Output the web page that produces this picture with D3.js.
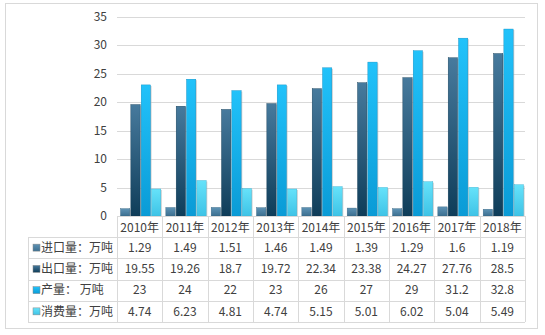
<!DOCTYPE html>
<html>
<head>
<meta charset="utf-8">
<script src="https://cdn.jsdelivr.net/npm/d3@7"></script>
<style>
  body { margin: 0; background: #fff; }
  svg text { font-family: "Noto Sans CJK SC", "Liberation Sans", sans-serif; fill: #404040; }
</style>
</head>
<body>
<svg id="chart" width="545" height="335"></svg>
<script>
// chart values
const years = ['2010年', '2011年', '2012年', '2013年', '2014年', '2015年', '2016年', '2017年', '2018年'];
const importVals = [1.29, 1.49, 1.51, 1.46, 1.49, 1.39, 1.29, 1.6, 1.19];
const exportVals = [19.55, 19.26, 18.7, 19.72, 22.34, 23.38, 24.27, 27.76, 28.5];
const outputVals = [23, 24, 22, 23, 26, 27, 29, 31.2, 32.8];
const consumeVals = [4.74, 6.23, 4.81, 4.74, 5.15, 5.01, 6.02, 5.04, 5.49];
const seriesNames = ['进口量：万吨', '出口量：万吨', '产量： 万吨', '消费量：万吨'];
const yTicks = [0, 5, 10, 15, 20, 25, 30, 35];

const series = [
  {name: seriesNames[0], values: importVals, c: ['#5e93b5', '#3c6f90']},
  {name: seriesNames[1], values: exportVals, c: ['#477a9d', '#0f3d59']},
  {name: seriesNames[2], values: outputVals, c: ['#22c2fa', '#0a9bd6']},
  {name: seriesNames[3], values: consumeVals, c: ['#66e2fa', '#3ec3e6']}
];

const svg = d3.select('#chart');
const plotLeft = 117, plotRight = 525, plotTop = 16.5, base = 216;
const rowTop = 237, rowBottom = 322, labelLeft = 28;

svg.append('rect')
  .attr('x', 5.5).attr('y', 3.5).attr('width', 532).attr('height', 325)
  .attr('fill', '#fff').attr('stroke', '#d9d9d9');

const defs = svg.append('defs');
series.forEach((s, i) => {
  const g = defs.append('linearGradient').attr('id', 'g' + i)
    .attr('x1', 0).attr('y1', 0).attr('x2', 0).attr('y2', 1);
  g.append('stop').attr('offset', '0%').attr('stop-color', s.c[0]);
  g.append('stop').attr('offset', '100%').attr('stop-color', s.c[1]);
});

const x = d3.scaleBand().domain(years).range([plotLeft, plotRight]);
const inner = d3.scaleBand().domain(d3.range(series.length))
  .range([3.5, x.bandwidth() - 1.5]).paddingInner(0.1);
const y = d3.scaleLinear().domain([0, 35]).range([base, plotTop]);

// gridlines
svg.append('g').selectAll('line').data(yTicks.slice(1)).join('line')
  .attr('x1', plotLeft).attr('x2', plotRight)
  .attr('y1', d => Math.round(y(d)) + 0.5).attr('y2', d => Math.round(y(d)) + 0.5)
  .attr('stroke', '#d9d9d9');

// y labels
svg.append('g').selectAll('text').data(yTicks).join('text')
  .attr('x', 107).attr('y', d => y(d)).attr('dy', '0.35em')
  .attr('text-anchor', 'end').attr('font-size', 12)
  .text(d => d);

// bars (with a soft right-hand shadow)
series.forEach((s, i) => {
  const g = svg.append('g');
  g.selectAll('rect.shadow').data(s.values).join('rect')
    .attr('class', 'shadow')
    .attr('x', (d, j) => x(years[j]) + inner(i) + 1.2)
    .attr('y', d => y(d) + 1)
    .attr('width', inner.bandwidth())
    .attr('height', d => base - y(d) - 1)
    .attr('fill', '#bfbfbf').attr('opacity', 0.6);
  g.selectAll('rect.bar').data(s.values).join('rect')
    .attr('class', 'bar')
    .attr('x', (d, j) => x(years[j]) + inner(i))
    .attr('y', d => y(d))
    .attr('width', inner.bandwidth())
    .attr('height', d => base - y(d))
    .attr('fill', 'url(#g' + i + ')')
    .attr('stroke', d3.color(s.c[1]).darker(0.3)).attr('stroke-width', 0.4);
});

// axis line + table grid
const grid = svg.append('g').attr('stroke', '#d9d9d9').attr('fill', 'none');
const rowY = d3.scaleBand().domain(seriesNames).range([rowTop, rowBottom]);
grid.append('line').attr('x1', plotLeft).attr('x2', plotRight).attr('y1', base + 0.5).attr('y2', base + 0.5);
years.concat(['end']).forEach((yr, i) => {
  const xx = Math.round(i < years.length ? x(yr) : plotRight) + 0.5;
  grid.append('line').attr('x1', xx).attr('x2', xx).attr('y1', base).attr('y2', rowBottom);
});
grid.append('line').attr('x1', labelLeft + 0.5).attr('x2', labelLeft + 0.5).attr('y1', rowTop).attr('y2', rowBottom);
seriesNames.forEach(n => {
  const yy = Math.round(rowY(n)) + 0.5;
  grid.append('line').attr('x1', labelLeft).attr('x2', plotRight).attr('y1', yy).attr('y2', yy);
});
grid.append('line').attr('x1', labelLeft).attr('x2', plotRight)
  .attr('y1', rowBottom + 0.5).attr('y2', rowBottom + 0.5);

// header years
svg.append('g').selectAll('text').data(years).join('text')
  .attr('x', d => x(d) + x.bandwidth() / 2).attr('y', (base + rowTop) / 2 + 1)
  .attr('dy', '0.35em').attr('text-anchor', 'middle').attr('font-size', 12)
  .text(d => d);

// table rows
series.forEach((s, i) => {
  const cy = rowY(s.name) + rowY.bandwidth() / 2;
  svg.append('rect').attr('x', 33).attr('y', cy - 3.5).attr('width', 7).attr('height', 7)
    .attr('fill', 'url(#g' + i + ')').attr('stroke', '#888').attr('stroke-width', 0.5);
  svg.append('text').attr('x', 41).attr('y', cy).attr('dy', '0.35em')
    .attr('font-size', 12).text(s.name);
  svg.append('g').selectAll('text').data(s.values).join('text')
    .attr('x', (d, j) => x(years[j]) + x.bandwidth() / 2).attr('y', cy).attr('dy', '0.35em')
    .attr('text-anchor', 'middle').attr('font-size', 12)
    .text(d => d);
});
</script>
</body>
</html>
